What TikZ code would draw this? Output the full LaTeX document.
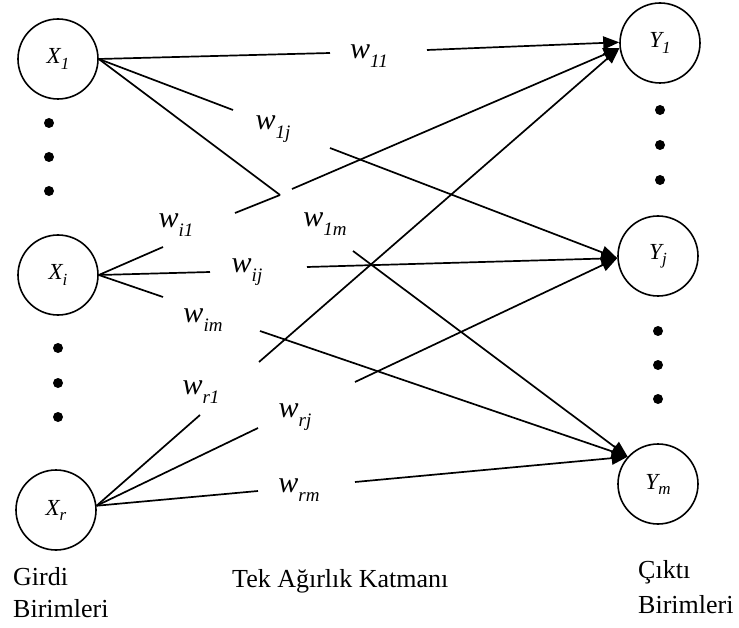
\documentclass[tikz,border=0pt]{standalone}
\usepackage{fontspec}
\setmainfont{Liberation Serif}
\usetikzlibrary{arrows.meta}
% weight label w_{..}
\newcommand\wgt[1]{{\fontsize{30}{30}\selectfont\itshape w\raisebox{-0.28em}{\fontsize{19}{19}\selectfont #1}}}
% unit label X_.. / Y_..
\newcommand\unitlab[2]{{\fontsize{23}{23}\selectfont\itshape #1\raisebox{-0.22em}{\fontsize{17}{17}\selectfont #2}}}

\begin{document}
\begin{tikzpicture}[x=1pt,y=-1pt,
  unit/.style={circle,draw,line width=1.6pt,minimum size=80pt,inner sep=0pt},
  link/.style={line width=1.7pt},
  arc/.style={line width=1.7pt,-{Triangle[length=16pt,width=13pt]}},
  wlabel/.style={inner sep=0pt},
  dot/.style={circle,fill,inner sep=0pt,minimum size=10pt},
  caption/.style={font=\fontsize{26}{26}\selectfont,anchor=base west,inner sep=0pt}]
\useasboundingbox (0,0) rectangle (739,628);

% input units
\node[unit] (X1) at (58,59)  {\unitlab{X}{1}};
\node[unit] (Xi) at (58,275) {\unitlab{X}{i}};
\node[unit] (Xr) at (56,510) {\unitlab{X}{r}};
% output units
\node[unit] (Y1) at (660,43)  {\unitlab{Y}{1}};
\node[unit] (Yj) at (658,256) {\unitlab{Y}{j}};
\node[unit] (Ym) at (658,484) {\unitlab{Y}{m}};

% ellipsis dots
\node[dot] (dl1) at (49,123) {};
\node[dot] (dl2) at (49,157) {};
\node[dot] (dl3) at (49,191) {};
\node[dot] (dl4) at (58,348) {};
\node[dot] (dl5) at (58,383) {};
\node[dot] (dl6) at (58,417) {};
\node[dot] (dr1) at (660,110) {};
\node[dot] (dr2) at (660,145) {};
\node[dot] (dr3) at (660,180) {};
\node[dot] (dr4) at (658,331) {};
\node[dot] (dr5) at (658,365) {};
\node[dot] (dr6) at (658,399) {};

% weight labels
\node[wlabel] (w11) at (369,56)  {\wgt{11}};
\node[wlabel] (w1j) at (273,129) {\wgt{1j}};
\node[wlabel] (w1m) at (325,224) {\wgt{1m}};
\node[wlabel] (wi1) at (176,225) {\wgt{i1}};
\node[wlabel] (wij) at (247,272) {\wgt{ij}};
\node[wlabel] (wim) at (203,320) {\wgt{im}};
\node[wlabel] (wr1) at (201,392) {\wgt{r1}};
\node[wlabel] (wrj) at (295,417) {\wgt{rj}};
\node[wlabel] (wrm) at (299,490) {\wgt{rm}};

% ends of the line pieces on either side of each label
\coordinate (a1) at (330,53);  \coordinate (b1) at (427,50);
\coordinate (a2) at (233,110); \coordinate (b2) at (330,148);
\coordinate (a3) at (280,195); \coordinate (b3) at (353,251);
\coordinate (a4) at (163,247); \coordinate (b4) at (235,213); \coordinate (c4) at (292,189);
\coordinate (a5) at (210,272); \coordinate (b5) at (307,267);
\coordinate (a6) at (163,297); \coordinate (b6) at (260,331);
\coordinate (a7) at (200,415); \coordinate (b7) at (259,362);
\coordinate (a8) at (258,428); \coordinate (b8) at (355,382);
\coordinate (a9) at (258,491); \coordinate (b9) at (355,482);

% connections from X1
\draw[link] (X1.east) -- (a1);  \draw[arc] (b1) -- (Y1.179);
\draw[link] (X1.east) -- (a2);  \draw[arc] (b2) -- (Yj.183);
\draw[link] (X1.east) -- (a3);  \draw[arc] (b3) -- (Ym.138);
% connections from Xi
\draw[link] (Xi.east) -- (a4);  \draw[link] (b4) -- (a3); \draw[arc] (c4) -- (Y1.187);
\draw[link] (Xi.east) -- (a5);  \draw[arc] (b5) -- (Yj.183);
\draw[link] (Xi.east) -- (a6);  \draw[arc] (b6) -- (Ym.138);
% connections from Xr
\draw[link] (Xr.6) -- (a7);  \draw[arc] (b7) -- (Y1.187);
\draw[link] (Xr.6) -- (a8);  \draw[arc] (b8) -- (Yj.183);
\draw[link] (Xr.6) -- (a9);  \draw[arc] (b9) -- (Ym.138);

% captions
\node[caption] (girdi1) at (13,585) {Girdi};
\node[caption] (girdi2) at (13,617) {Birimleri};
\node[caption] (katman) at (232,587) {Tek Ağırlık Katmanı};
\node[caption] (cikti1) at (638,578) {Çıktı};
\node[caption] (cikti2) at (638,613) {Birimleri};
\end{tikzpicture}
\end{document}
